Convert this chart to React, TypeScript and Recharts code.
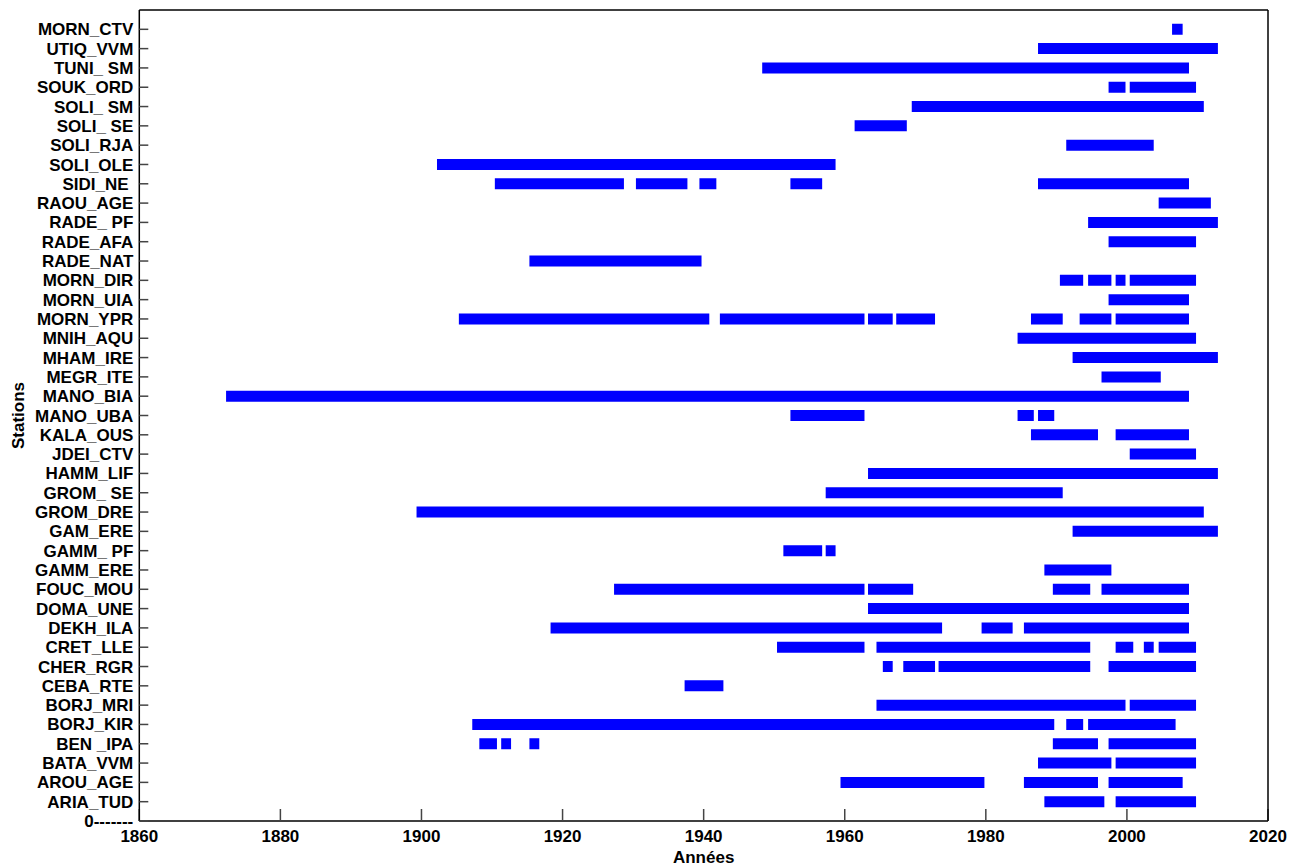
import React from "react";
import { ComposedChart, Line, XAxis, YAxis } from "recharts";

const stations: string[] = [
  "0-------", "ARIA_TUD", "AROU_AGE", "BATA_VVM", "BEN _IPA", "BORJ_KIR", "BORJ_MRI",
  "CEBA_RTE", "CHER_RGR", "CRET_LLE", "DEKH_ILA", "DOMA_UNE", "FOUC_MOU", "GAMM_ERE",
  "GAMM_ PF", "GAM_ERE", "GROM_DRE", "GROM_ SE", "HAMM_LIF", "JDEI_CTV", "KALA_OUS",
  "MANO_UBA", "MANO_BIA", "MEGR_ITE", "MHAM_IRE", "MNIH_AQU", "MORN_YPR", "MORN_UIA",
  "MORN_DIR", "RADE_NAT", "RADE_AFA", "RADE_ PF", "RAOU_AGE", "SIDI_NE\u00a0", "SOLI_OLE",
  "SOLI_RJA", "SOLI_ SE", "SOLI_ SM", "SOUK_ORD", "TUNI_ SM", "UTIQ_VVM", "MORN_CTV",
];

// Observation periods [start, end] (years) for each station, same order as above
const periods: [number, number][][] = [
  [],
  [[1988.3, 1996.8], [1998.4, 2009.8]],
  [[1959.4, 1979.8], [1985.4, 1995.9], [1997.4, 2007.9]],
  [[1987.4, 1997.8], [1998.4, 2009.8]],
  [[1908.2, 1910.7], [1911.3, 1912.7], [1915.3, 1916.7], [1989.5, 1995.9], [1997.4, 2009.8]],
  [[1907.2, 1989.7], [1991.4, 1993.8], [1994.5, 2006.9]],
  [[1964.5, 1999.8], [2000.4, 2009.8]],
  [[1937.3, 1942.8]],
  [[1965.4, 1966.8], [1968.3, 1972.8], [1973.3, 1994.8], [1997.4, 2009.8]],
  [[1950.4, 1962.8], [1964.5, 1994.8], [1998.4, 2000.9], [2002.4, 2003.8], [2004.5, 2009.8]],
  [[1918.3, 1973.8], [1979.4, 1983.8], [1985.4, 2008.8]],
  [[1963.3, 2008.8]],
  [[1927.3, 1962.8], [1963.3, 1969.7], [1989.5, 1994.8], [1996.4, 2008.8]],
  [[1988.3, 1997.8]],
  [[1951.3, 1956.8], [1957.3, 1958.7]],
  [[1992.3, 2012.9]],
  [[1899.3, 2010.9]],
  [[1957.3, 1990.9]],
  [[1963.3, 2012.9]],
  [[2000.4, 2009.8]],
  [[1986.4, 1995.9], [1998.4, 2008.8]],
  [[1952.3, 1962.8], [1984.5, 1986.8], [1987.4, 1989.7]],
  [[1872.3, 2008.8]],
  [[1996.4, 2004.8]],
  [[1992.3, 2012.9]],
  [[1984.5, 2009.8]],
  [[1905.3, 1940.8], [1942.3, 1962.8], [1963.3, 1966.8], [1967.3, 1972.8], [1986.4, 1990.9], [1993.3, 1997.8], [1998.4, 2008.8]],
  [[1997.4, 2008.8]],
  [[1990.5, 1993.8], [1994.5, 1997.8], [1998.4, 1999.8], [2000.4, 2009.8]],
  [[1915.3, 1939.7]],
  [[1997.4, 2009.8]],
  [[1994.5, 2012.9]],
  [[2004.5, 2011.9]],
  [[1910.4, 1928.7], [1930.4, 1937.7], [1939.4, 1941.8], [1952.3, 1956.8], [1987.4, 2008.8]],
  [[1902.2, 1958.7]],
  [[1991.4, 2003.8]],
  [[1961.4, 1968.8]],
  [[1969.5, 2010.9]],
  [[1997.4, 1999.8], [2000.4, 2009.8]],
  [[1948.3, 2008.8]],
  [[1987.4, 2012.9]],
  [[2006.4, 2007.9]],
];

const yearTicks: number[] = [1860, 1880, 1900, 1920, 1940, 1960, 1980, 2000, 2020];
const stationTicks: number[] = stations.map((_, i) => i);

const FONT = "'Liberation Sans', Arial, Helvetica, sans-serif";

function seriesFor(i: number) {
  const pts: { x: number; y: number | null }[] = [];
  periods[i].forEach(([s, e]) => {
    pts.push({ x: s, y: i });
    pts.push({ x: e, y: i });
    pts.push({ x: e, y: null });
  });
  return pts;
}

export default function App() {
  const tickStyle = { fontFamily: FONT, fontSize: 17, fontWeight: 700, fill: "#000" };
  return (
    <div style={{ position: "absolute", left: 0, top: 0, background: "#fff" }}>
      <ComposedChart
        width={1301}
        height={867}
        margin={{ top: 0, right: 0, bottom: 0, left: 0 }}
      >
        <XAxis
          xAxisId="bottom"
          dataKey="x"
          type="number"
          domain={[1860, 2020]}
          ticks={yearTicks}
          orientation="bottom"
          height={46}
          tickSize={-12}
          tickMargin={21}
          tick={tickStyle}
          axisLine={{ stroke: "#000", strokeWidth: 1.5 }}
          tickLine={{ stroke: "#444", strokeWidth: 1.5 }}
          interval={0}
          allowDataOverflow
          label={{
            value: "Années",
            position: "insideBottom",
            offset: 4,
            style: { fontFamily: FONT, fontSize: 17, fontWeight: 700, fill: "#000" },
          }}
        />
        <XAxis
          xAxisId="top"
          type="number"
          domain={[1860, 2020]}
          ticks={yearTicks}
          orientation="top"
          height={10}
          tickSize={-11}
          tick={false}
          axisLine={{ stroke: "#000", strokeWidth: 1.5 }}
          tickLine={{ stroke: "#444", strokeWidth: 1.5 }}
          interval={0}
          allowDataOverflow
        />
        <YAxis
          yAxisId="left"
          type="number"
          domain={[0, 42]}
          ticks={stationTicks}
          orientation="left"
          width={139.3}
          tickSize={-9}
          tickMargin={15}
          tick={tickStyle}
          tickFormatter={(v: number) => stations[v] ?? ""}
          axisLine={{ stroke: "#000", strokeWidth: 1.5 }}
          tickLine={{ stroke: "#444", strokeWidth: 1.5 }}
          interval={0}
          allowDataOverflow
          label={{
            value: "Stations",
            angle: -90,
            position: "insideLeft",
            offset: 18,
            style: { fontFamily: FONT, fontSize: 17, fontWeight: 700, fill: "#000", textAnchor: "middle" },
          }}
        />
        <YAxis
          yAxisId="right"
          type="number"
          domain={[0, 42]}
          ticks={stationTicks}
          orientation="right"
          width={33}
          tickSize={-11}
          tick={false}
          axisLine={{ stroke: "#000", strokeWidth: 1.5 }}
          tickLine={{ stroke: "#444", strokeWidth: 1.5 }}
          interval={0}
          allowDataOverflow
        />
        {stations.map((name, i) =>
          periods[i].length ? (
            <Line
              key={name + i}
              xAxisId="bottom"
              yAxisId="left"
              data={seriesFor(i)}
              dataKey="y"
              stroke="#0000ff"
              strokeWidth={11}
              strokeLinecap="butt"
              dot={false}
              activeDot={false}
              isAnimationActive={false}
              connectNulls={false}
            />
          ) : null
        )}
      </ComposedChart>
    </div>
  );
}
